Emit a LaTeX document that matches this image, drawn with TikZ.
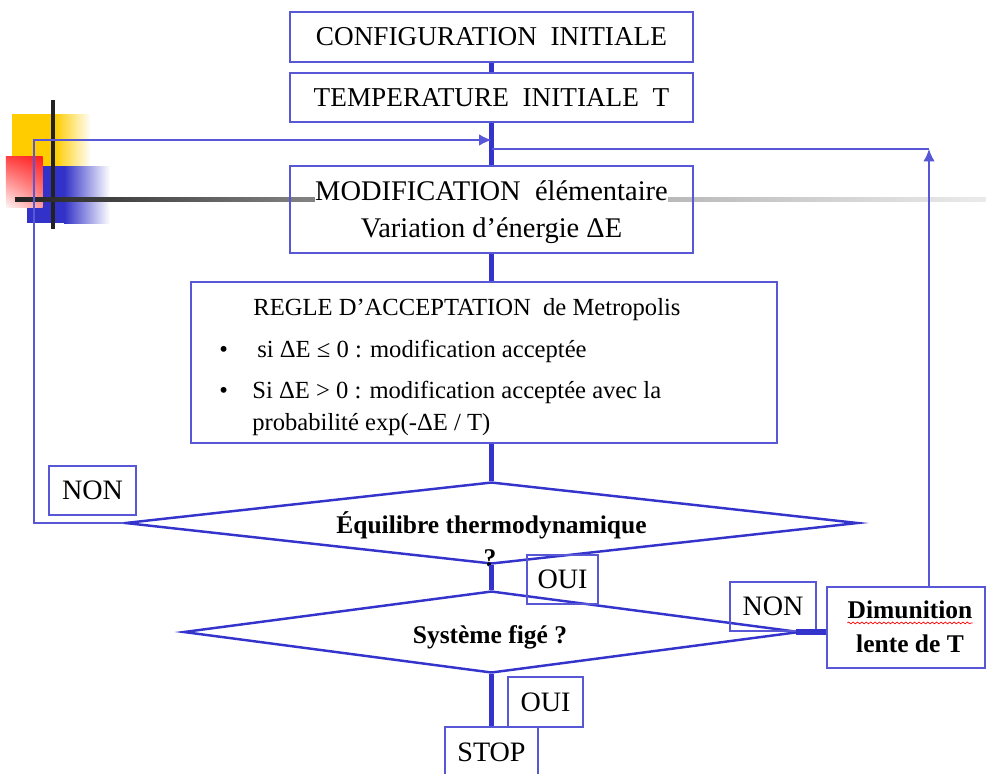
\documentclass[tikz,border=0pt]{standalone}
\usepackage{fontspec}
\setmainfont{Liberation Serif}
\usetikzlibrary{shapes.geometric,arrows.meta,decorations.pathmorphing,shadings}
\definecolor{bordbleu}{RGB}{88,88,214}
\definecolor{traitbleu}{RGB}{52,52,204}
\definecolor{jaune}{RGB}{255,204,0}
\definecolor{rouge}{RGB}{255,30,30}
\definecolor{bleufonce}{RGB}{50,50,200}
\definecolor{noir}{RGB}{34,34,34}
\begin{document}
\begin{tikzpicture}
	\tikzset{>={Latex[length=7pt,width=6.5pt]}}
	\tikzset{
		boite/.style={draw=bordbleu, line width=0.9pt, inner sep=0pt, minimum width=8.06cm, font=\fontsize{15.5}{20}\selectfont},
		etiq/.style={draw=bordbleu, line width=0.9pt, inner sep=0pt, minimum height=0.98cm, font=\fontsize{16}{19}\selectfont},
		losange/.style={diamond, draw=traitbleu, line width=1.4pt, inner sep=0pt, minimum height=1.64cm},
		epais/.style={traitbleu, line width=3.4pt},
		retour/.style={bordbleu, line width=0.9pt},
		ligne/.style={inner sep=0pt, anchor=base, font=\fontsize{16.2}{20}\selectfont},
		corps/.style={inner sep=0pt, anchor=base west, font=\fontsize{14}{17}\selectfont},
		gras/.style={inner sep=0pt, anchor=base, font=\fontsize{14.5}{17}\selectfont\bfseries}
	}
	\useasboundingbox (0,0) rectangle (19.72,-15.46);
	\clip (0,0) rectangle (19.72,-15.46);

	\fill[jaune] (0.24,-2.28) rectangle (1.1,-3.32);
	\shade[left color=jaune, right color=white] (1.1,-2.28) rectangle (1.82,-3.32);
	\fill[bleufonce] (0.54,-3.32) rectangle (1.28,-4.46);
	\shade[left color=bleufonce, right color=white] (1.28,-3.32) rectangle (2.2,-4.46);
	\shade[upper right=rouge, upper left=rouge!85, lower left=rouge!5, lower right=rouge!45] (0.12,-3.12) rectangle (0.85,-4.14);
	\fill[noir] (1.01,-2.0) rectangle (1.09,-4.58);
	\shade[left color=noir, right color=black!50] (0.3,-3.94) rectangle (6.0,-4.02);
	\shade[left color=black!50, right color=black!8] (6.0,-3.94) rectangle (19.72,-4.02);

	\pgfmathsetmacro{\colx}{9.83}
	\coordinate (coinG) at (0.68,-2.8);
	\coordinate (entree) at (\colx,-2.8);
	\coordinate (coinD) at (18.58,-2.98);

	\node[boite, minimum height=1.0cm] (config) at (\colx,-0.74) {CONFIGURATION\hspace{0.5em}INITIALE};
	\node[boite, minimum height=0.98cm] (temp) at (\colx,-1.95) {TEMPERATURE\hspace{0.5em}INITIALE\hspace{0.5em}T};
	\node[boite, minimum height=1.74cm] (modif) at (\colx,-4.19) {};
	\node[ligne, fill=white, text depth=5pt] (modifA) at (\colx,-4.0) {MODIFICATION\hspace{0.5em}élémentaire};
	\node[ligne] (modifB) at (\colx,-4.74) {Variation d’énergie ΔE};

	\node[boite, minimum width=11.72cm, minimum height=3.22cm] (regle) at (9.68,-7.25) {};
	\node[corps] (regleT) at (5.06,-6.30) {REGLE D’ACCEPTATION\hspace{0.5em}de Metropolis};
	\node[corps] (puceA) at (4.38,-7.14) {\textbullet};
	\node[corps] (regleA) at (5.14,-7.14) {si ΔE ≤ 0 : modification acceptée};
	\node[corps] (puceB) at (4.38,-7.96) {\textbullet};
	\node[corps] (regleB) at (5.04,-7.96) {Si ΔE > 0 : modification acceptée avec la};
	\node[corps] (regleC) at (5.04,-8.60) {probabilité exp(-ΔE / T)};

	\node[losange, minimum width=14.66cm] (equil) at (\colx,-10.46) {};
	\node[gras] (equilA) at (\colx,-10.66) {Équilibre thermodynamique};
	\node[gras] (equilB) at (9.8,-11.32) {?};

	\node[losange, minimum width=12.32cm] (fige) at (\colx,-12.64) {};
	\node[gras] (figeT) at (9.8,-12.86) {Système figé ?};

	\node[boite, minimum width=3.16cm, minimum height=1.62cm] (dim) at (18.12,-12.55) {};
	\node[gras] (dimA) at (18.2,-12.36) {Dimunition};
	\node[gras] (dimB) at (18.2,-13.04) {lente de T};
	\draw[red, line width=0.4pt, decorate, decoration={snake, amplitude=0.5pt, segment length=2.5pt}] ([yshift=-2.8pt]dimA.base west) -- ([yshift=-2.8pt]dimA.base east);

	\node[etiq, minimum width=1.74cm] (nonA) at (1.85,-9.81) {NON};
	\node[etiq, minimum width=1.42cm] (ouiA) at (11.25,-11.59) {OUI};
	\node[etiq, minimum width=1.72cm] (nonB) at (15.46,-12.13) {NON};
	\node[etiq, minimum width=1.5cm, minimum height=1.0cm] (ouiB) at (10.91,-14.04) {OUI};
	\node[etiq, minimum width=1.86cm, minimum height=1.0cm] (stop) at (\colx,-15.04) {STOP};

	\draw[epais] (config.south) -- (temp.north);
	\draw[epais] (temp.south) -- (modif.north);
	\draw[epais] (modif.south) -- (modif.south |- regle.north);
	\draw[epais] (equil.north |- regle.south) -- (equil.north);
	\draw[epais] (equil.south) -- (fige.north);
	\draw[epais] (fige.south) -- (stop.north);
	\draw[epais] ([xshift=-0.1cm]fige.east) -- (fige.east -| dim.west);

	\draw[retour,->] (equil.west) -| (coinG) -- (entree);
	\draw[retour,->] (dim.north -| coinD) -- (coinD);
	\draw[retour] (coinD) -- (coinD -| entree);
\end{tikzpicture}
\end{document}
